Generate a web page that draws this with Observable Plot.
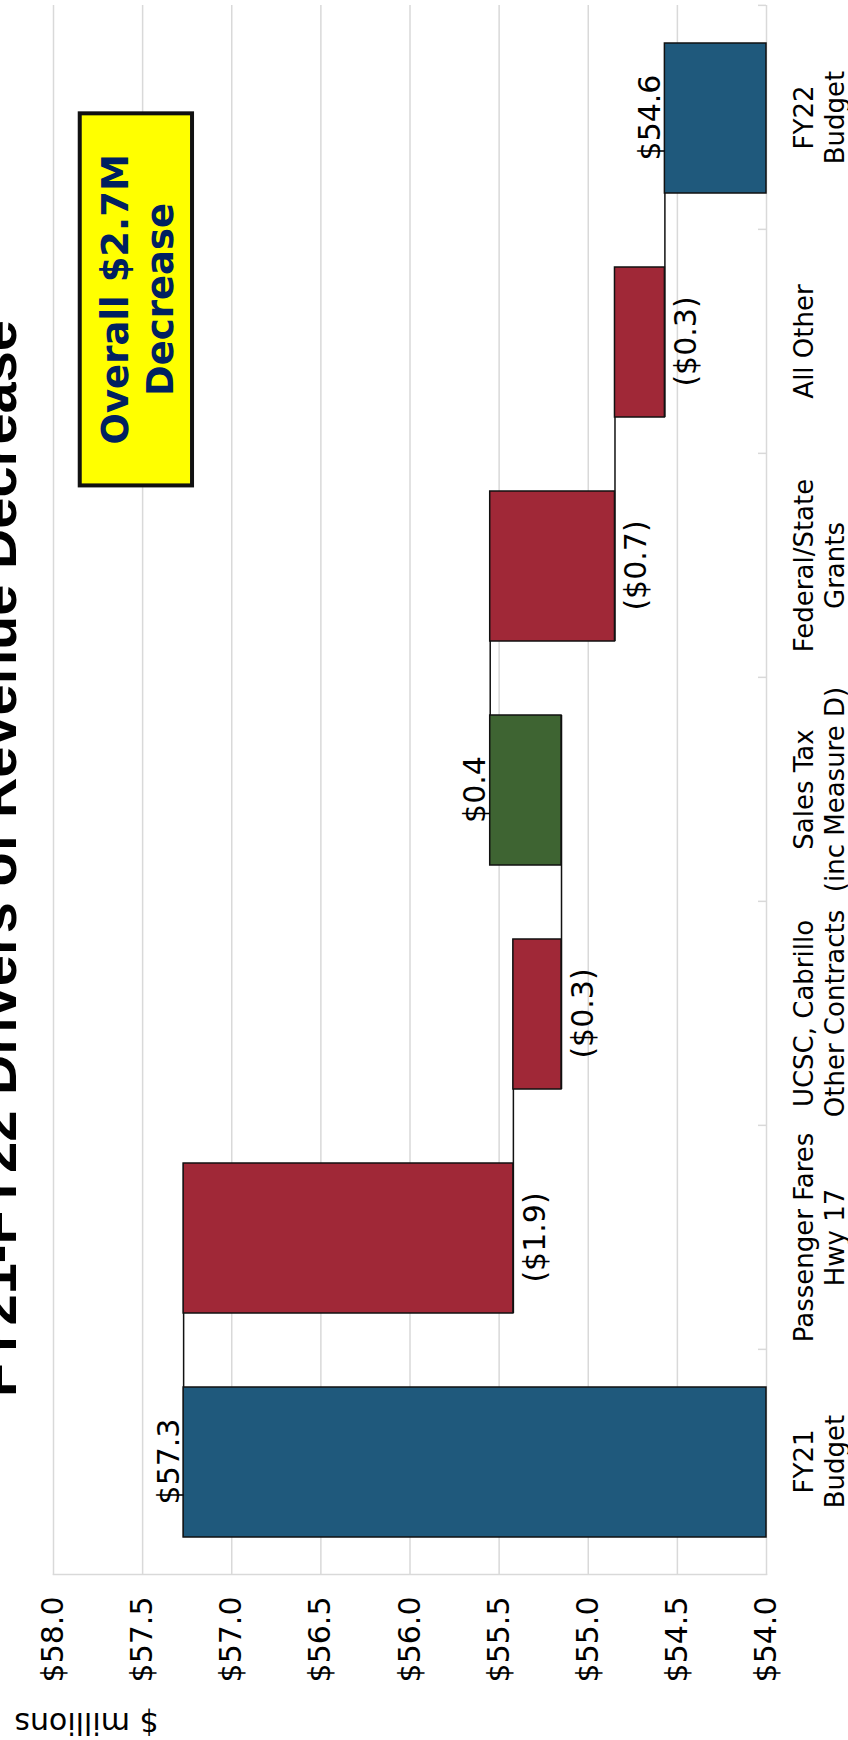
<!DOCTYPE html>
<html><head><meta charset="utf-8">
<script src="https://cdn.jsdelivr.net/npm/d3@7"></script>
<script src="https://cdn.jsdelivr.net/npm/@observablehq/plot@0.6"></script>
<style>
html,body{margin:0;padding:0;background:#fff;overflow:hidden;width:848px;height:1740px;}
#wrap{position:absolute;left:0;top:0;width:1740px;height:848px;transform-origin:0 0;transform:translate(0,1740px) rotate(-90deg);}
</style></head><body><div id="wrap"></div>
<script>
// ---- data ----
const categories = ["FY21 Budget", "Passenger Fares Hwy 17", "UCSC, Cabrillo Other Contracts", "Sales Tax (inc Measure D)", "Federal/State Grants", "All Other", "FY22 Budget"];
const categoryLines = [["FY21", "Budget"], ["Passenger Fares", "Hwy 17"], ["UCSC, Cabrillo", "Other Contracts"], ["Sales Tax", "(inc Measure D)"], ["Federal/State", "Grants"], ["All Other"], ["FY22", "Budget"]];
const startValue = 57.27;                        // FY21 Budget
const changes = [-1.85, -0.27, 0.40, -0.70, -0.28]; // drivers
const endValue = 54.57;                          // FY22 Budget
const yTicks = [54.0, 54.5, 55.0, 55.5, 56.0, 56.5, 57.0, 57.5, 58.0];
const title = "FY21-FY22 Drivers of Revenue Decrease";
const yLabel = "$ millions";
const annotationLines = ["Overall $2.7M", "Decrease"];
const colors = {total: "#1F597C", down: "#A02837", up: "#3E6432"};

// ---- derived rows ----
const fmt = v => (v < 0 ? "($" + Math.abs(v).toFixed(1) + ")" : "$" + v.toFixed(1));
const rows = [];
rows.push({cat: categories[0], y1: yTicks[0], y2: startValue, kind: "total", label: fmt(startValue)});
let run = startValue;
changes.forEach((c, i) => {
  rows.push({cat: categories[i + 1], y1: run, y2: run + c, kind: c < 0 ? "down" : "up", label: fmt(c)});
  run += c;
});
rows.push({cat: categories[6], y1: yTicks[0], y2: endValue, kind: "total", label: fmt(endValue)});
rows.forEach(r => { r.top = Math.max(r.y1, r.y2); r.bottom = Math.min(r.y1, r.y2); r.color = colors[r.kind]; });
const connectors = rows.slice(0, -1).map((r, i) => ({a: r.cat, b: rows[i + 1].cat, v: r.y2}));

const W = 1740, H = 848, mL = 165, mR = 5, mT = 53, mB = 82;
const step = (W - mL - mR) / categories.length;

const annotation = (index, scales, values, dims) => {
  const fw = dims.width - dims.marginLeft - dims.marginRight;
  const x1 = dims.marginLeft + 0.694 * fw, x2 = dims.marginLeft + 0.931 * fw;
  const y1 = scales.y(57.85), y2 = scales.y(57.22);
  const g = d3.create("svg:g");
  g.append("rect").attr("x", x1).attr("y", y1).attr("width", x2 - x1).attr("height", y2 - y1)
    .attr("fill", "#FFFF00").attr("stroke", "#111").attr("stroke-width", 4);
  const cx = (x1 + x2) / 2;
  [57.58, 57.325].forEach((v, i) => {
    g.append("text").attr("x", cx).attr("y", scales.y(v)).attr("text-anchor", "middle")
      .attr("font-family", "'DejaVu Sans', Verdana, sans-serif").attr("font-weight", "bold")
      .attr("font-size", 37).attr("fill", "#002060").text(annotationLines[i]);
  });
  return g.node();
};

const chart = Plot.plot({
  width: W, height: H,
  marginLeft: mL, marginRight: mR, marginTop: mT, marginBottom: mB,
  style: "font-family: 'DejaVu Sans', Verdana, sans-serif; max-width: none; overflow: visible; background: white;",
  x: {domain: categories, paddingInner: 0.33, paddingOuter: 0.165, label: null},
  y: {domain: [yTicks[0], yTicks[yTicks.length - 1]], label: null},
  color: {type: "identity"},
  marks: [
    Plot.ruleY(yTicks, {stroke: "#d9d9d9", strokeWidth: 1.5}),
    Plot.frame({anchor: "left", stroke: "#d9d9d9", strokeWidth: 1.5}),
    Plot.ruleX(categories, {x: d => d, dx: step / 2, y1: yTicks[0], y2: yTicks[0] + 0.045, stroke: "#d9d9d9", strokeWidth: 1.5}),
    Plot.axisY({ticks: yTicks, tickFormat: d => "$" + d.toFixed(1), tickSize: 0, tickPadding: 22, fontSize: 30, label: null}),
    Plot.axisX({tickSize: 0, tickPadding: 24, fontSize: 26, lineHeight: 1.2, label: null,
      tickFormat: d => categoryLines[categories.indexOf(d)].join("\n")}),
    Plot.ruleY(connectors, {x1: "a", x2: "b", y: "v", stroke: "#111", strokeWidth: 1.5}),
    Plot.barY(rows, {x: "cat", y1: "y1", y2: "y2", fill: "color", stroke: "#111", strokeWidth: 1.5}),
    Plot.text(rows.filter(r => r.kind !== "down"), {x: "cat", y: "top", text: "label", lineAnchor: "bottom", dy: -5, fontSize: 30, fill: "black"}),
    Plot.text(rows.filter(r => r.kind === "down"), {x: "cat", y: "bottom", text: "label", lineAnchor: "top", dy: 10, fontSize: 30, fill: "black"}),
    Plot.text([title], {text: d => d, frameAnchor: "top", dx: -69, dy: -38, lineAnchor: "bottom", fontSize: 56, fontWeight: "bold", fontFamily: "'Liberation Sans', Arial, sans-serif", fill: "black"}),
    Plot.text([yLabel], {text: d => d, frameAnchor: "top-left", dx: -138, dy: 105, rotate: -90, textAnchor: "start", lineAnchor: "bottom", fontSize: 30, fill: "black"}),
    annotation
  ]
});
document.getElementById("wrap").appendChild(chart);
</script>
</body></html>
